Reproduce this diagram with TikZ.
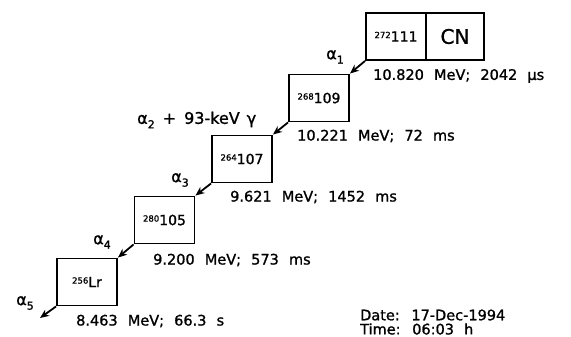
\documentclass[tikz,border=0pt]{standalone}
\usepackage{fontspec}
\setmainfont{DejaVu Sans}[WordSpace=2.2,FakeBold=1.2]
\usetikzlibrary{arrows.meta}
\newcommand\isotope[2]{\raisebox{3.5pt}{\fontsize{8.5}{8.5}\selectfont #1}#2}
\newcommand\alphsub[1]{α\raisebox{-4.5pt}{\fontsize{11}{11}\selectfont #1}}
\begin{document}
\begin{tikzpicture}[x=1pt,y=-1pt,
  box/.style={draw,line width=1.9pt,minimum width=60pt,minimum height=47pt,inner sep=0pt,font=\fontsize{14}{14}\selectfont},
  arr/.style={line width=1.8pt,-{Stealth[length=9pt,width=7.5pt]}},
  lab/.style={anchor=west,inner sep=0pt,font=\fontsize{14.5}{14.5}\selectfont},
  alab/.style={inner sep=0pt,font=\fontsize{16}{16}\selectfont}]
\useasboundingbox (0,0) rectangle (571,337);
% boxes
\node[box] (b1) at (396,36.5) {\isotope{272}{111}};
\node[box,minimum width=58pt,font=\fontsize{20}{20}\selectfont] (cn) at (455,36.5) {CN};
\node[box] (b2) at (319,98) {\isotope{268}{109}};
\node[box] (b3) at (242,159) {\isotope{264}{107}};
\node[box] (b4) at (164.5,220) {\isotope{280}{105}};
\node[box] (b5) at (87,282) {\isotope{256}{Lr}};
\coordinate (end) at (40,318);
% arrows
\draw[arr] (b1.south west) -- (b2.north east);
\draw[arr] (b2.south west) -- (b3.north east);
\draw[arr] (b3.south west) -- (b4.north east);
\draw[arr] (b4.south west) -- (b5.north east);
\draw[arr] (b5.south west) -- (end);
% alpha labels
\node[alab] (a1) at (335,57) {\alphsub{1}};
\node[alab,anchor=west] (a2) at (137,120) {\alphsub{2}\hspace{8pt}+\hspace{8pt}93-keV\hspace{7pt}γ};
\node[alab] (a3) at (180,180) {\alphsub{3}};
\node[alab] (a4) at (102,242) {\alphsub{4}};
\node[alab] (a5) at (25,303) {\alphsub{5}};
% energy labels
\node[lab] (e1) at (373,76) {10.820 MeV; 2042 µs};
\node[lab] (e2) at (297,136) {10.221 MeV; 72 ms};
\node[lab] (e3) at (230,197) {9.621 MeV; 1452 ms};
\node[lab] (e4) at (153,260) {9.200 MeV; 573 ms};
\node[lab] (e5) at (76,321) {8.463 MeV; 66.3 s};
% date
\node[lab] (d) at (360,315) {Date: 17-Dec-1994};
\node[lab] (t) at (360,329) {Time: 06:03 h};
\end{tikzpicture}
\end{document}
